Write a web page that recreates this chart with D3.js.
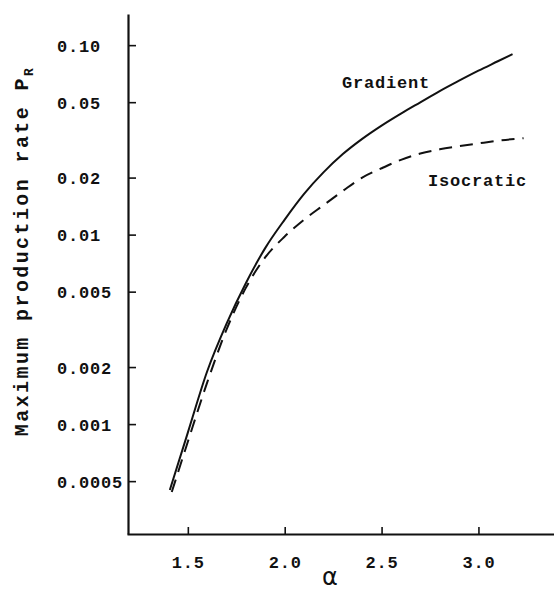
<!DOCTYPE html>
<html>
<head>
<meta charset="utf-8">
<script src="https://cdn.jsdelivr.net/npm/d3@7"></script>
<style>
  body { margin: 0; background: #fff; }
  text { font-family: "Liberation Mono", "DejaVu Sans Mono", monospace; font-weight: bold; fill: #111; }
</style>
</head>
<body>
<script>
// values
var gradAlpha = [1.407, 1.5, 1.6, 1.7, 1.8, 1.9, 2.0, 2.1, 2.2, 2.3, 2.4, 2.5, 2.6, 2.7, 2.8, 2.9, 3.0, 3.1, 3.176];
var gradRate  = [0.000449, 0.000902, 0.00190, 0.00339, 0.00556, 0.00851, 0.0120, 0.0164, 0.0213, 0.0266, 0.0320, 0.0376, 0.0435, 0.0499, 0.0572, 0.0649, 0.0733, 0.0822, 0.0897];
var isoAlpha  = [1.417, 1.5, 1.6, 1.7, 1.8, 1.9, 2.0, 2.1, 2.2, 2.3, 2.4, 2.5, 2.6, 2.7, 2.8, 2.9, 3.0, 3.1, 3.233];
var isoRate   = [0.000438, 0.000807, 0.00166, 0.00316, 0.00525, 0.00760, 0.00977, 0.0120, 0.0143, 0.0170, 0.0200, 0.0224, 0.0248, 0.0268, 0.0282, 0.0293, 0.0303, 0.0313, 0.0323];
var xTicks = [1.5, 2.0, 2.5, 3.0];
var yTicks = [0.10, 0.05, 0.02, 0.01, 0.005, 0.002, 0.001, 0.0005];
var yTickLabels = ['0.10', '0.05', '0.02', '0.01', '0.005', '0.002', '0.001', '0.0005'];

var width = 554, height = 592;
var svg = d3.select('body').append('svg').attr('width', width).attr('height', height);

var x = d3.scaleLinear().domain([1.186, 3.39]).range([127, 554]);
var y = d3.scaleLog().domain([0.000263, 0.146]).range([534, 14]);

// y axis, ticks pointing inwards, labels left aligned
var yAxis = svg.append('g').attr('transform', 'translate(128,0)')
    .call(d3.axisLeft(y).tickValues(yTicks).tickSize(-8).tickSizeOuter(0)
        .tickFormat(function(d, i) { return yTickLabels[i]; }));
yAxis.select('.domain').attr('stroke-width', 2.2).attr('stroke', '#111');
yAxis.selectAll('.tick line').attr('stroke-width', 1.6).attr('stroke', '#111');
yAxis.selectAll('.tick text')
    .attr('x', -71).attr('dy', '0.35em')
    .attr('text-anchor', 'start')
    .style('font-size', '17px').style('letter-spacing', '0.8px');

// x axis
var xAxis = svg.append('g').attr('transform', 'translate(0,534)')
    .call(d3.axisBottom(x).tickValues(xTicks).tickSize(-7).tickSizeOuter(0).tickPadding(22)
        .tickFormat(d3.format('.1f')));
xAxis.select('.domain').attr('stroke-width', 2.2).attr('stroke', '#111');
xAxis.selectAll('.tick line').attr('stroke-width', 1.6).attr('stroke', '#111');
xAxis.selectAll('.tick text')
    .style('font-size', '17px').style('letter-spacing', '0.8px');

var line = d3.line()
    .x(function(d) { return x(d[0]); })
    .y(function(d) { return y(d[1]); })
    .curve(d3.curveMonotoneX);

svg.append('path')
    .datum(d3.zip(gradAlpha, gradRate))
    .attr('d', line)
    .attr('fill', 'none')
    .attr('stroke', '#111')
    .attr('stroke-width', 2);

svg.append('path')
    .datum(d3.zip(isoAlpha, isoRate))
    .attr('d', line)
    .attr('fill', 'none')
    .attr('stroke', '#111')
    .attr('stroke-width', 2)
    .attr('stroke-dasharray', '13,8');

svg.append('text').text('Gradient')
    .attr('x', 342).attr('y', 88)
    .style('font-size', '17px').style('letter-spacing', '0.8px');

svg.append('text').text('Isocratic')
    .attr('x', 428).attr('y', 186)
    .style('font-size', '17px').style('letter-spacing', '0.8px');

// axis titles
var ylab = svg.append('text')
    .attr('transform', 'translate(28,251) rotate(-90)')
    .attr('text-anchor', 'middle')
    .style('font-size', '20px').style('letter-spacing', '2.4px');
ylab.append('tspan').text('Maximum production rate  P');
ylab.append('tspan').text('R').attr('dy', 5).style('font-size', '13px');

svg.append('text').text('α')
    .attr('x', 330).attr('y', 585)
    .attr('text-anchor', 'middle')
    .style('font-family', '"DejaVu Sans", sans-serif')
    .style('font-weight', 'normal')
    .style('font-size', '24px');
</script>
</body>
</html>
